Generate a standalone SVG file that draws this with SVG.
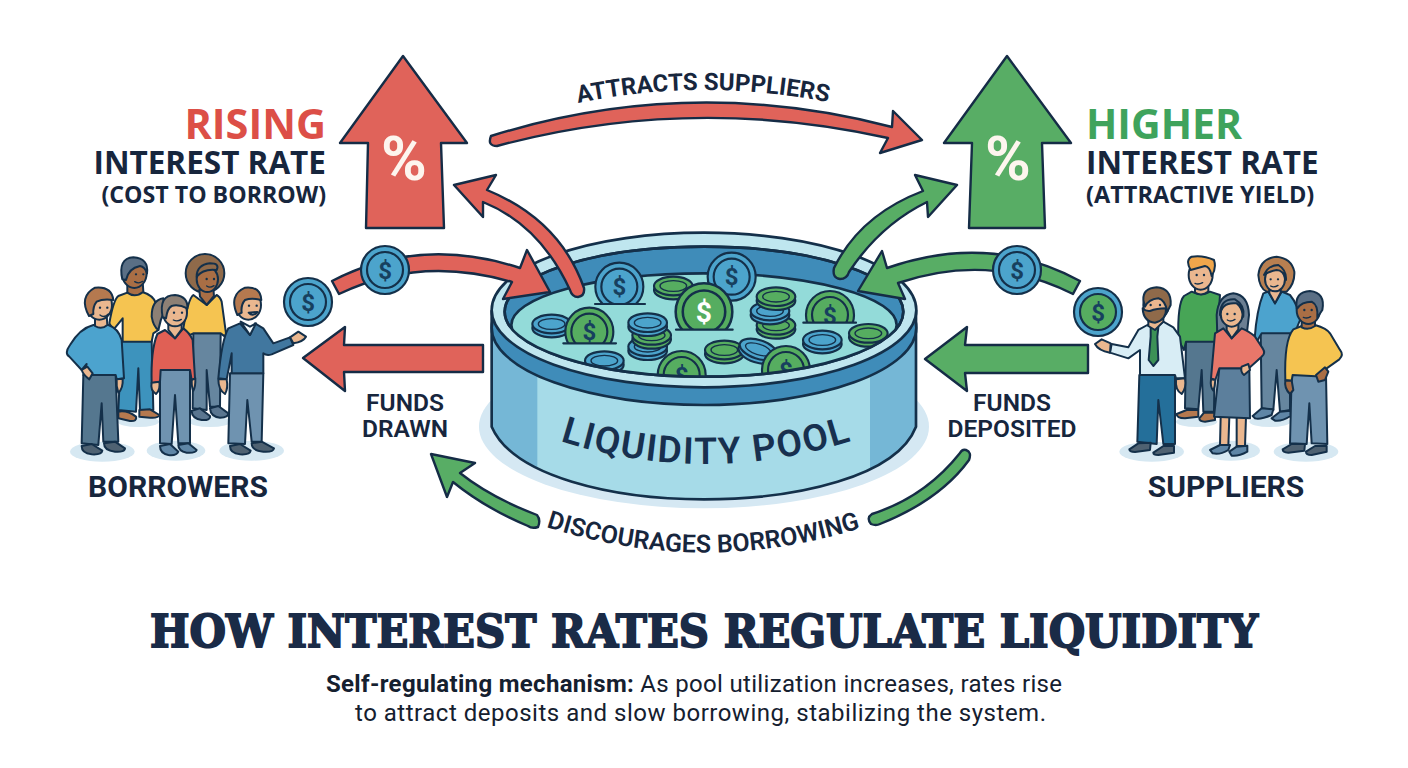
<svg xmlns="http://www.w3.org/2000/svg" width="1408" height="768" viewBox="0 0 1408 768">
<style>
text{font-family:"Roboto","Liberation Sans",sans-serif;fill:#17263d}
.hd{font-family:"Open Sans","Noto Sans",sans-serif;font-weight:700}
.lb{font-weight:600;font-size:24.5px;text-anchor:middle}
.gp{font-weight:700;font-size:30px;text-anchor:middle}
.ar{stroke:#152c46;stroke-width:2.4;stroke-linejoin:round}
.r{fill:#e0635a}.g{fill:#58ad65}
.pc{font-weight:700;font-size:62px;text-anchor:middle;fill:#fdf5ee}
.o{stroke:#14304a;stroke-width:6.5;stroke-linejoin:round;stroke-linecap:round}
.p *{stroke:#14304a;stroke-width:6;stroke-linejoin:round;stroke-linecap:round}
.p .n{stroke:none}
.p .l{fill:none;stroke-width:4}
.p .e{fill:#14304a;stroke:none}
.sh{fill:#d6e8f2;stroke:none}
.sk{fill:#eab78f}.dk{fill:#a96e45}
.d{font-weight:700;font-size:72px;text-anchor:middle;fill:#17405f}
.w{font-weight:700;font-size:72px;text-anchor:middle;fill:#fff}
.cb{fill:#4ca4cc}.cg{fill:#56ad60}
.pl{stroke:#14304a;stroke-width:8}
</style>
<defs>
<g id="coinB"><circle r="72" class="cb o"/><circle r="54" fill="none" class="o"/><text y="26" class="d">$</text></g>
<g id="coinG"><circle r="72" class="cg o"/><circle r="54" fill="none" class="o"/><text y="26" class="d">$</text></g>
<g id="coinW"><circle r="72" class="cg o"/><circle r="54" fill="none" class="o"/><text y="26" class="w">$</text></g>
<g id="coinBG"><circle r="72" class="cb o"/><circle r="54" class="cg o"/><text y="26" class="d">$</text></g>
<g id="flatB"><ellipse cy="12" rx="58" ry="28" class="cb o"/><ellipse rx="58" ry="28" class="cb o"/><ellipse rx="40" ry="16" fill="none" stroke="#14304a" stroke-width="4"/></g>
<g id="flatG"><ellipse cy="12" rx="58" ry="28" class="cg o"/><ellipse rx="58" ry="28" class="cg o"/><ellipse rx="40" ry="16" fill="none" stroke="#14304a" stroke-width="4"/></g>
<clipPath id="c52"><rect x="-90" y="-90" width="180" height="142"/></clipPath>
<clipPath id="c46"><rect x="-90" y="-90" width="180" height="136"/></clipPath>
<clipPath id="c35"><rect x="-90" y="-90" width="180" height="125"/></clipPath>
<clipPath id="c23"><rect x="-90" y="-90" width="180" height="113"/></clipPath>
<clipPath id="body"><path d="M35 245V590C100 740 400 808 672 808C950 808 1250 740 1308 590V245Z"/></clipPath>
<clipPath id="inner"><ellipse cx="672" cy="245" rx="598" ry="195"/></clipPath>
<path id="tpA" d="M578 103Q704 77 832 103"/>
<path id="tpD" d="M546 527Q705 578 864 527"/>
<path id="tpL" d="M560 441Q705 487 851 441"/>
</defs>
<rect width="1408" height="768" fill="#fff"/>

<g id="pool" transform="translate(480 230) scale(.33333)">
<ellipse cx="672" cy="590" rx="675" ry="245" fill="#d5e8f3"/>
<path d="M35 245V590C100 740 400 808 672 808C950 808 1250 740 1308 590V245Z" fill="#75b7d6"/>
<rect x="172" y="240" width="998" height="600" fill="#a6dbe8" clip-path="url(#body)"/>
<path d="M35 245V590C100 740 400 808 672 808C950 808 1250 740 1308 590V245Z" fill="none" class="pl"/>
<ellipse cx="672" cy="293" rx="637" ry="232" fill="#3f8cb9" class="pl"/>
<ellipse cx="672" cy="240" rx="637" ry="232" fill="#bfe6ef" class="pl"/>
<ellipse cx="672" cy="245" rx="598" ry="195" fill="#3f8cb9" class="pl"/>
<g clip-path="url(#inner)">
<ellipse cx="672" cy="285" rx="578" ry="155" fill="#93dbd9" class="pl"/>
<use href="#coinB" transform="translate(418 170)" clip-path="url(#c52)"/>
<path d="M345 222H495" class="o" fill="none"/>
<use href="#coinB" transform="translate(755 140)"/>
<use href="#flatG" transform="translate(580 168)"/>
<use href="#flatB" transform="translate(215 282)"/>
<use href="#coinG" transform="translate(328 305)" clip-path="url(#c35)"/>
<path d="M250 340H408" class="o" fill="none"/>
<use href="#coinW" transform="translate(672 245) scale(1.18)" clip-path="url(#c46)"/>
<path d="M588 299H758" class="o" fill="none"/>
<use href="#flatG" transform="translate(888 286)"/>
<use href="#flatB" transform="translate(870 243)"/>
<use href="#flatG" transform="translate(888 200)"/>
<use href="#coinG" transform="translate(1050 255)" clip-path="url(#c23)"/>
<path d="M970 278H1128" class="o" fill="none"/>
<use href="#flatB" transform="translate(503 350)"/>
<use href="#flatG" transform="translate(515 316)"/>
<use href="#flatB" transform="translate(503 278)"/>
<use href="#flatB" transform="translate(1027 330)"/>
<use href="#flatG" transform="translate(1165 310)"/>
<use href="#flatB" transform="translate(373 392)"/>
<use href="#flatG" transform="translate(733 360)"/>
<use href="#flatB" transform="translate(835 358) rotate(18)"/>
<use href="#coinG" transform="translate(605 435)"/>
<use href="#coinG" transform="translate(918 420)"/>
</g>
<ellipse cx="672" cy="245" rx="598" ry="195" fill="none" class="pl"/>
</g>
<text font-size="37" font-weight="600" letter-spacing="1.6"><textPath href="#tpL" style="fill:#17304f">LIQUIDITY POOL</textPath></text>

<g id="rate-left">
<path class="ar r" d="M403 56L467 143H441L444 228H366L368 143H340Z"/>
<text x="404" y="180" class="pc">%</text>
<text x="326" y="139" text-anchor="end" class="hd" font-size="41.5" style="fill:#dc4f47">RISING</text>
<text x="326" y="174" text-anchor="end" class="hd" font-size="31.5">INTEREST RATE</text>
<text x="326" y="203" text-anchor="end" class="hd" font-size="23.2">(COST TO BORROW)</text>
</g>
<g id="rate-right">
<path class="ar g" d="M1007 56L1071 143H1042L1045 228H969L972 143H944Z"/>
<text x="1008" y="180" class="pc">%</text>
<text x="1086" y="139" class="hd" font-size="41" style="fill:#3fa35c">HIGHER</text>
<text x="1086" y="174" class="hd" font-size="31.5">INTEREST RATE</text>
<text x="1086" y="203" class="hd" font-size="23.5">(ATTRACTIVE YIELD)</text>
</g>

<g id="connectors">
<path class="ar r" d="M491 136Q690 74 892 127L893 111L922 140L880 153L888 138Q690 94 497 146Q487 146 491 136Z"/>
<path class="ar r" d="M454 185L496 175L487 190Q560 220 584 288Q585 296 578 297Q572 297 570 290Q540 225 483 202L483 217Z"/>
<path class="ar r" d="M332 281Q420 235 520 268L527 250L550 292L503 299L512 282Q420 255 339 294Z"/>
<path class="ar r" d="M303 358L345 327L344 345H483V372H344L345 391Z"/>
<path class="ar g" d="M957 185L915 175L923 191Q860 215 834 268Q832 278 840 279Q847 279 849 272Q880 225 927 202L928 217Z"/>
<path class="ar g" d="M858 291L882 251L887 268Q990 232 1080 281L1073 294Q990 252 898 283L905 299Z"/>
<path class="ar g" d="M925 359L967 327L965 345H1088V373H965L967 391Z"/>
<path class="ar g" d="M431 454L475 463L460 473Q490 497 537 515Q541 520 538 527Q532 529 528 526Q485 508 453 482L447 497Z"/>
<path class="ar g" d="M960 453Q925 497 872 514Q866 518 871 524Q876 526 880 524Q940 500 969 460Q972 452 966 450Q962 449 960 453Z"/>
<text font-size="24" font-weight="700"><textPath href="#tpA">ATTRACTS SUPPLIERS</textPath></text>
<text font-size="25" font-weight="600"><textPath href="#tpD">DISCOURAGES BORROWING</textPath></text>
<text x="405" y="411" class="lb">FUNDS</text><text x="405" y="437" class="lb">DRAWN</text>
<text x="1012" y="411" class="lb">FUNDS</text><text x="1012" y="437" class="lb">DEPOSITED</text>
</g>

<g id="coins">
<use href="#coinB" transform="translate(385 270) scale(.3333)"/>
<use href="#coinB" transform="translate(308 302) scale(.3333)"/>
<use href="#coinB" transform="translate(1017 270) scale(.3333)"/>
<use href="#coinBG" transform="translate(1098 312) scale(.3333)"/>
</g>

<g id="borrowers">
<g class="p" transform="translate(50 240) scale(.33333)">
<ellipse class="sh n" cx="157" cy="635" rx="97" ry="30"/><ellipse class="sh n" cx="378" cy="632" rx="88" ry="30"/><ellipse class="sh n" cx="605" cy="632" rx="97" ry="30"/><ellipse class="sh n" cx="265" cy="545" rx="62" ry="16"/><ellipse class="sh n" cx="480" cy="545" rx="62" ry="16"/>
<!-- back man -->
<path d="M215 300L205 510L258 515L265 385L270 510L310 510L305 300Z" fill="#3d93bd"/>
<path d="M205 515Q232 510 258 530Q262 545 240 543L205 535Z" fill="#b5794f"/><path d="M268 510L300 508L328 525Q325 535 300 533L268 530Z" fill="#b5794f"/>
<path d="M240 155L205 168Q190 180 178 250L190 270L218 235L218 305L305 305L310 280L325 270L318 190Q310 165 275 155Z" fill="#f5c451"/>
<path d="M232 130V158Q255 175 280 155L278 125Z" class="dk"/>
<ellipse cx="253" cy="100" rx="37" ry="44" class="dk"/>
<path d="M217 118Q203 55 250 52Q297 55 291 100Q285 80 270 78Q235 85 228 120Z" fill="#5a6f85"/>
<circle class="e" cx="258" cy="103" r="3.5"/><circle class="e" cx="280" cy="103" r="3.5"/><path class="l" d="M254 125Q266 133 278 124"/>
<!-- back woman -->
<path d="M430 280L428 505L470 510L470 390L480 500L510 500L512 280Z" fill="#66869f"/>
<path d="M425 512L450 505L480 528Q482 542 455 540Q425 535 425 512Z" fill="#5a7690"/><path d="M480 505L505 498L535 520Q535 533 510 533Q482 530 480 505Z" fill="#5a7690"/>
<circle cx="465" cy="100" r="58" fill="#8f6a4a"/>
<path d="M430 165Q415 175 400 265L420 285L430 280L512 280L525 290L528 280L515 185Q510 170 500 165L470 195Z" fill="#f5c451"/>
<path d="M448 150L450 170L470 195L492 168L490 145Z" class="dk"/>
<ellipse cx="472" cy="118" rx="32" ry="38" class="dk"/>
<path d="M440 110Q460 85 500 90Q510 70 480 70Q440 75 440 110Z" fill="#8f6a4a"/>
<circle class="e" cx="470" cy="117" r="3.5"/><circle class="e" cx="492" cy="117" r="3.5"/><path class="l" d="M470 138Q480 145 492 137"/>
<!-- front woman -->
<path d="M340 175Q305 180 305 230Q310 260 325 270Q330 240 345 210Z" fill="#8d8075"/>
<path d="M330 390L330 610L365 612L375 465L385 610L420 610L420 390Z" fill="#6f93b0"/>
<path d="M330 618L360 612L385 635Q380 648 355 645Q330 640 330 618Z" fill="#5f86a6"/><path d="M385 615L415 610L440 630Q437 640 410 638Q385 633 385 615Z" fill="#5f86a6"/>
<path d="M345 270L322 282Q302 330 305 430L330 425L332 390L420 390L425 420L435 415L428 300Q420 280 400 265L375 295Z" fill="#e06055"/>
<path d="M305 428Q300 450 318 462Q332 450 328 425Z" class="sk"/><path d="M425 420Q425 445 430 452Q437 440 436 415Z" class="sk"/>
<path d="M355 245V270L375 295L395 268V240Z" class="sk"/>
<ellipse cx="375" cy="218" rx="36" ry="41" class="sk"/>
<path d="M338 232Q325 165 375 165Q415 170 412 205Q385 192 365 198Q352 205 348 235Z" fill="#8d8075"/>
<circle class="e" cx="372" cy="218" r="3.5"/><circle class="e" cx="396" cy="218" r="3.5"/><path class="l" d="M370 240Q382 246 394 238"/>
<!-- left man -->
<path d="M100 405L95 610L145 615L155 490L160 605L205 605L197 405Z" fill="#55778f"/>
<path d="M95 618L125 612L157 632Q155 645 125 643Q95 640 95 618Z" fill="#4f6272"/><path d="M162 610L195 605L225 625Q225 637 195 635Q162 632 162 610Z" fill="#4f6272"/>
<path d="M130 255Q90 265 60 315Q42 340 58 350L95 390L110 372L100 405L197 405L200 418L222 415L215 300Q205 265 175 255Z" fill="#4ca3ce"/>
<path d="M95 390L112 380L128 400L118 418Q100 405 95 390Z" class="sk"/><path d="M200 418L218 416Q220 445 205 458Q198 440 200 418Z" class="sk"/>
<path d="M135 230V258Q155 270 172 255L170 225Z" class="sk"/>
<ellipse cx="148" cy="195" rx="38" ry="44" class="sk"/>
<path d="M117 228Q85 170 135 143Q185 138 190 180Q160 175 140 185Q128 200 130 222Z" fill="#b5794f"/>
<circle class="e" cx="150" cy="203" r="3.5"/><circle class="e" cx="172" cy="203" r="3.5"/><path class="l" d="M150 225Q162 235 175 222"/>
<!-- right man -->
<path d="M540 400L535 610L585 612L592 480L605 605L635 605L640 400Z" fill="#6f93b0"/>
<path d="M540 618L570 612L602 632Q600 645 570 643Q540 640 540 618Z" fill="#4f6272"/><path d="M605 610L635 605L672 625Q670 637 640 635Q605 632 605 610Z" fill="#4f6272"/>
<path d="M570 250L535 265Q515 300 505 415L530 418L545 340L545 400L640 400L640 340Q650 348 665 343L730 315L720 292L670 310L640 265L615 250L600 285Z" fill="#41779f"/>
<path d="M505 418L530 418Q535 445 525 462Q505 450 505 418Z" class="sk"/>
<path d="M720 292L745 275L768 290Q760 305 730 310Z" class="sk"/>
<path d="M572 245L600 285L618 250L600 260Z" fill="#f5fafc"/>
<ellipse cx="595" cy="195" rx="38" ry="44" class="sk"/>
<path d="M562 225Q535 165 585 143Q632 138 634 180Q605 172 585 180Q572 195 575 218Z" fill="#b5794f"/>
<circle class="e" cx="597" cy="197" r="3.5"/><circle class="e" cx="620" cy="197" r="3.5"/><path d="M596 218Q608 232 622 216Z" fill="#fff" stroke-width="4"/>
</g>
<text x="178" y="497" class="gp">BORROWERS</text>
</g>

<g id="suppliers">
<g class="p" transform="translate(1060 240) scale(.33333)">
<ellipse class="sh n" cx="275" cy="635" rx="97" ry="30"/><ellipse class="sh n" cx="512" cy="632" rx="88" ry="30"/><ellipse class="sh n" cx="738" cy="635" rx="97" ry="30"/><ellipse class="sh n" cx="410" cy="545" rx="62" ry="16"/><ellipse class="sh n" cx="630" cy="545" rx="62" ry="16"/>
<!-- green man -->
<path d="M378 300L375 505L415 508L425 390L430 515L462 515L465 300Z" fill="#55778f"/>
<path d="M350 522L380 510L415 510V530L375 535Q350 535 350 522Z" fill="#b5794f"/><path d="M418 535L432 518H465V540L435 545Q418 545 418 535Z" fill="#b5794f"/>
<path d="M395 155L372 168Q352 190 355 300L372 330L378 305L470 305L480 165L450 155Q425 170 395 155Z" fill="#47a556"/>
<path d="M405 130V158Q425 170 445 155V125Z" class="sk"/>
<ellipse cx="422" cy="105" rx="36" ry="44" class="sk"/>
<path d="M392 90Q375 60 395 50Q430 45 462 60Q470 85 455 108Q450 80 435 78Q410 85 392 90Z" fill="#f0a64b"/>
<circle class="e" cx="410" cy="105" r="3.5"/><circle class="e" cx="432" cy="105" r="3.5"/><path class="l" d="M405 130Q415 135 428 128"/>
<!-- blue woman -->
<path d="M602 278L605 505L640 510L650 390L660 515L690 510L690 278Z" fill="#66869f"/>
<path d="M578 528L605 505L640 508L635 525Q600 540 585 535Z" fill="#5f86a6"/><path d="M635 535L660 515L692 512V528Q665 545 645 542Z" fill="#5f86a6"/>
<path d="M650 50Q600 55 595 105Q598 145 620 155L680 155Q705 130 703 95Q695 55 650 50Z" fill="#b87f50"/>
<path d="M610 160L625 155L645 190L665 155L690 165Q715 195 720 240L700 290L690 280H605L590 305L584 295Q590 210 610 160Z" fill="#4ca3ce"/>
<path d="M628 130V160L645 190L662 158V130Z" class="sk"/>
<ellipse cx="645" cy="118" rx="30" ry="36" class="sk"/>
<path d="M612 105Q625 75 655 75Q680 90 678 120Q670 90 650 90Q625 95 612 105Z" fill="#b87f50"/>
<circle class="e" cx="632" cy="118" r="3.5"/><circle class="e" cx="654" cy="118" r="3.5"/><path class="l" d="M632 138Q642 144 654 136"/>
<!-- red woman -->
<path d="M520 160Q475 165 470 225L472 285L560 285L567 225Q565 165 520 160Z" fill="#6b7f93"/>
<path d="M482 530L480 615L505 618L508 530Z" class="sk"/><path d="M530 530L530 618L555 618L558 530Z" class="sk"/>
<path d="M450 630L480 615L510 615L505 630Q480 645 458 640Z" fill="#5f86a6"/><path d="M508 635L530 620L562 617V635Q535 650 515 647Z" fill="#5f86a6"/>
<path d="M478 385L462 530L570 535L568 385Z" fill="#5c7f9c"/>
<path d="M490 265L465 280L453 415L466 420L478 385H545L550 400L605 350Q618 340 608 325L585 290Q570 275 545 265L515 295Z" fill="#e8776a"/>
<path d="M453 418L466 420Q465 440 460 452Q450 440 453 418Z" class="sk"/><path d="M545 380L565 372L570 390L552 405Q540 395 545 380Z" class="sk"/>
<path d="M500 245V270L515 295L535 268V240Z" class="sk"/>
<ellipse cx="515" cy="222" rx="33" ry="38" class="sk"/>
<path d="M480 225Q485 185 530 190Q545 200 550 230Q555 195 525 178Q480 175 480 225Z" fill="#6b7f93"/>
<circle class="e" cx="502" cy="222" r="3.5"/><circle class="e" cx="524" cy="222" r="3.5"/><path class="l" d="M502 240Q512 247 525 238"/>
<!-- tie man -->
<path d="M238 405L232 605L290 612L295 480L310 612L345 612L345 405Z" fill="#246f9a"/>
<path d="M208 628L235 610L272 608L270 630L225 636Q208 636 208 628Z" fill="#4f6272"/><path d="M280 638L310 618L342 618L342 638L295 645Q280 645 280 638Z" fill="#4f6272"/>
<path d="M262 255L235 270L205 322L155 312L150 338L205 355L240 330L240 405L345 405L348 415L375 415L360 290L340 262L310 245L285 265Z" fill="#d8edf5"/>
<path d="M152 310L125 298L105 312Q115 332 150 338Z" class="sk"/><path d="M348 418L375 415Q380 445 365 462Q345 450 348 418Z" class="sk"/>
<path d="M272 262L295 262L292 290L295 360L280 378L266 360L272 290Z" fill="#3c9156"/>
<path d="M265 225L265 258L285 270L310 245V215Z" class="sk"/>
<ellipse cx="288" cy="195" rx="38" ry="44" class="sk"/>
<path d="M250 180Q248 145 290 142Q335 145 332 195L322 215Q315 180 295 175Q265 178 255 200Z" fill="#8f6a4a"/>
<path d="M248 205Q258 215 270 213Q290 205 318 205Q320 240 285 248Q250 245 248 205Z" fill="#8f6a4a"/>
<circle class="e" cx="272" cy="195" r="3.5"/><circle class="e" cx="300" cy="195" r="3.5"/>
<!-- yellow man -->
<path d="M695 405L690 610L740 612L748 490L755 610L802 612L798 405Z" fill="#6f93b0"/>
<path d="M668 628L695 612L735 612L733 632L685 638Q668 638 668 628Z" fill="#4f6272"/><path d="M738 635L765 618L800 618L800 635L755 645Q738 645 738 635Z" fill="#4f6272"/>
<path d="M725 258L700 268Q672 300 676 420L695 422L698 405L795 410L800 385L838 358Q852 345 840 330L810 280Q800 265 765 255Q745 270 725 258Z" fill="#f5c451"/>
<path d="M676 422L695 422L700 450L690 462Q672 445 676 422Z" class="dk"/><path d="M768 405L795 382L805 395L795 420L775 425Z" class="dk"/>
<path d="M725 235V262Q745 272 765 258V230Z" class="dk"/>
<ellipse cx="745" cy="210" rx="35" ry="42" class="dk"/>
<path d="M710 205Q703 155 750 153Q797 158 787 210L772 232Q775 195 755 185Q725 185 712 205Z" fill="#5a6f85"/>
<circle class="e" cx="733" cy="210" r="3.5"/><circle class="e" cx="755" cy="210" r="3.5"/><path class="l" d="M730 232Q742 237 752 230"/>
</g>
<text x="1226" y="497" class="gp">SUPPLIERS</text>
</g>

<g id="title">
<text x="150" y="647" font-size="44" font-weight="700" stroke="#1a2b47" stroke-width="1.8" textLength="1108" lengthAdjust="spacingAndGlyphs" style="font-family:'DejaVu Serif','Liberation Serif',serif;fill:#1a2b47">HOW INTEREST RATES REGULATE LIQUIDITY</text>
<text x="326" y="692" font-size="24" textLength="736" style="fill:#15202f"><tspan font-weight="700">Self-regulating mechanism:</tspan> As pool utilization increases, rates rise</text>
<text x="355" y="721" font-size="24" textLength="691" style="fill:#15202f">to attract deposits and slow borrowing, stabilizing the system.</text>
</g>
</svg>
